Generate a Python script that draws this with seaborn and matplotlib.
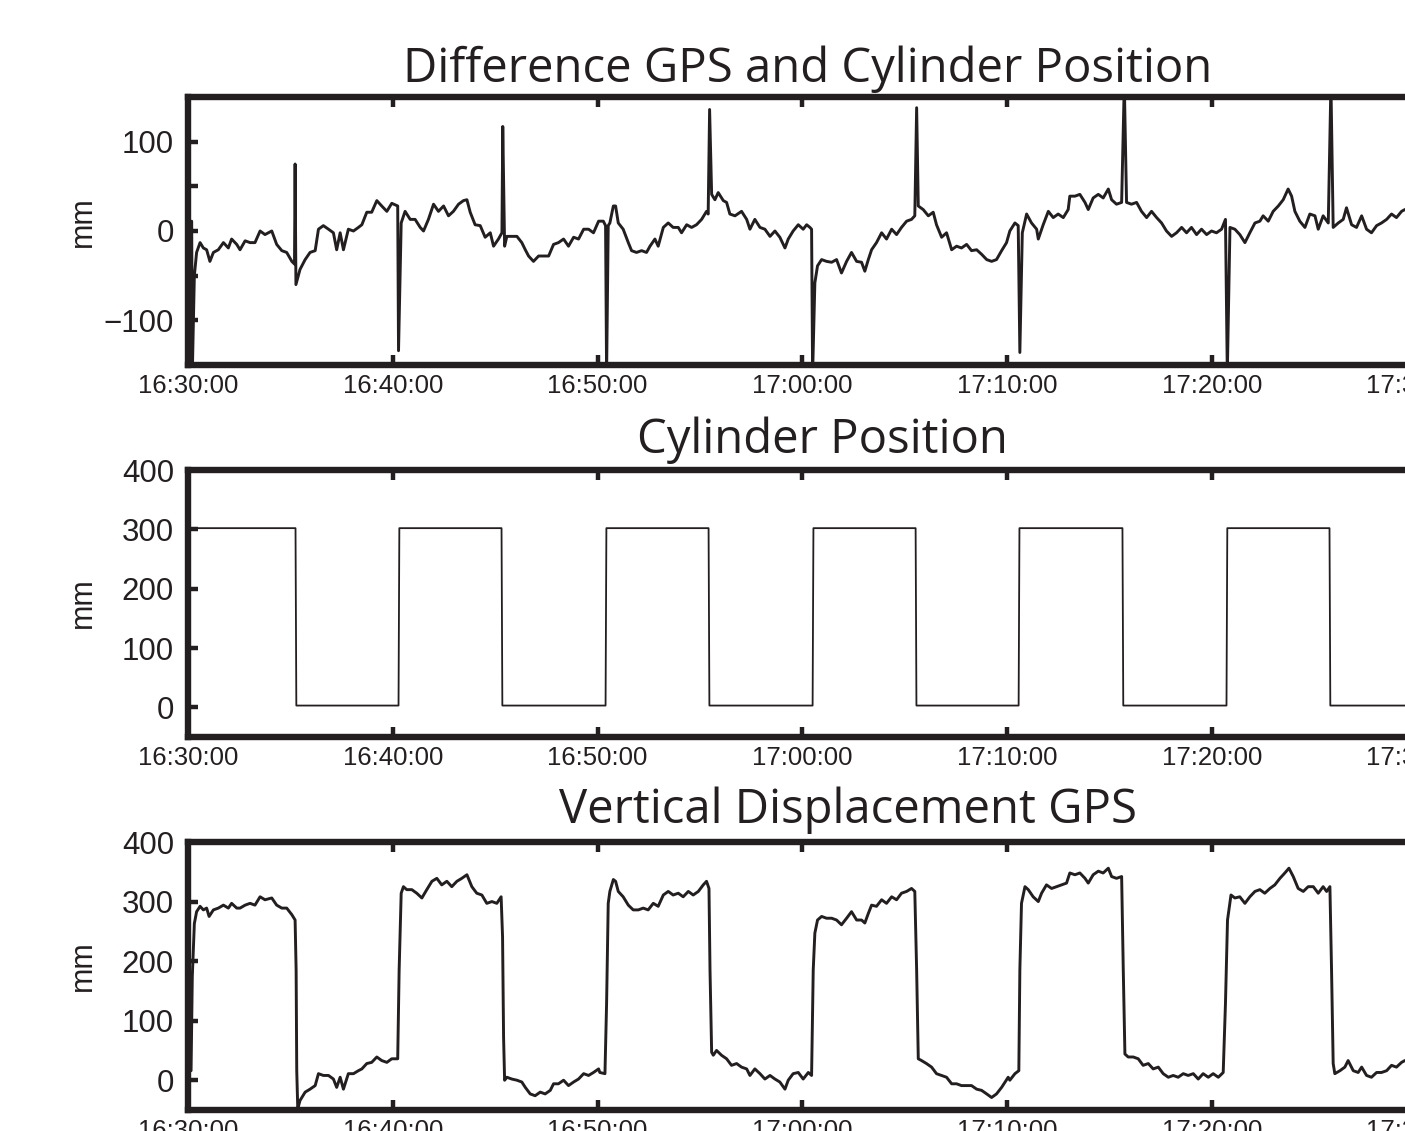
import numpy as np
import pandas as pd
import matplotlib
matplotlib.use("Agg")
import matplotlib.pyplot as plt
import seaborn as sns

# ---------------- data (minutes after 16:30:00, millimetres) ----------------
diff_min = [0.18, 0.21, 0.31, 0.42, 0.59, 0.75, 0.91, 1.07, 1.24, 1.48, 1.73, 1.97, 2.13, 2.38, 2.54,
            2.79, 3.03, 3.27, 3.52, 3.76, 4.09, 4.33, 4.58, 4.82, 5.07, 5.20, 5.23, 5.27, 5.47, 5.72,
            5.96, 6.21, 6.37, 6.61, 6.86, 7.10, 7.26, 7.43, 7.59, 7.83, 8.08, 8.32, 8.49, 8.73, 8.97,
            9.22, 9.46, 9.71, 9.95, 10.24, 10.28, 10.41, 10.60, 10.85, 11.09, 11.34, 11.50, 11.74, 11.99,
            12.23, 12.48, 12.72, 12.96, 13.21, 13.45, 13.62, 13.78, 14.02, 14.27, 14.51, 14.76, 14.92,
            15.16, 15.33, 15.37, 15.46, 15.57, 15.81, 16.06, 16.30, 16.47, 16.63, 16.87, 17.12, 17.36,
            17.61, 17.85, 18.09, 18.34, 18.58, 18.83, 19.07, 19.32, 19.56, 19.80, 20.05, 20.28, 20.39,
            20.44, 20.52, 20.60, 20.77, 20.88, 21.01, 21.25, 21.50, 21.66, 21.90, 22.15, 22.39, 22.56,
            22.80, 22.96, 23.21, 23.45, 23.69, 23.94, 24.10, 24.35, 24.59, 24.83, 25.08, 25.32, 25.40,
            25.47, 25.57, 25.73, 25.89, 26.14, 26.30, 26.46, 26.71, 27.03, 27.28, 27.44, 27.68, 27.93,
            28.17, 28.42, 28.66, 28.90, 29.15, 29.31, 29.55, 29.80, 30.04, 30.21, 30.37, 30.45, 30.50,
            30.61, 30.74, 30.94, 31.18, 31.43, 31.67, 31.91, 32.16, 32.40, 32.65, 32.89, 33.05, 33.22,
            33.38, 33.62, 33.87, 34.11, 34.36, 34.60, 34.84, 35.09, 35.33, 35.49, 35.58, 35.66, 35.90,
            36.15, 36.39, 36.55, 36.80, 37.04, 37.29, 37.53, 37.77, 38.02, 38.26, 38.51, 38.75, 39.00,
            39.24, 39.48, 39.73, 39.97, 40.13, 40.38, 40.54, 40.62, 40.74, 40.95, 41.19, 41.44, 41.52,
            41.76, 42.01, 42.25, 42.49, 42.74, 42.98, 43.06, 43.31, 43.55, 43.80, 43.96, 44.20, 44.45,
            44.69, 44.94, 45.10, 45.34, 45.59, 45.72, 45.83, 46.07, 46.32, 46.56, 46.81, 47.05, 47.30,
            47.54, 47.78, 48.03, 48.27, 48.52, 48.76, 49.00, 49.25, 49.49, 49.74, 49.98, 50.22, 50.47,
            50.66, 50.75, 50.88, 51.12, 51.36, 51.61, 51.85, 52.10, 52.34, 52.50, 52.75, 52.99, 53.24,
            53.48, 53.72, 53.89, 54.05, 54.29, 54.54, 54.78, 55.03, 55.19, 55.43, 55.68, 55.81, 55.92,
            56.17, 56.41, 56.57, 56.82, 57.06, 57.31, 57.55, 57.79, 58.04, 58.28, 58.53, 58.77, 59.01,
            59.26, 59.42, 59.70]
diff_mm = [11, -160, -50, -24, -13, -19, -21, -34, -24, -21, -13, -19, -9, -15, -21,
           -11, -13, -13, 0, -4, 0, -15, -22, -24, -34, -37, 75, -60, -43, -32,
           -24, -22, 2, 6, 2, -2, -21, -2, -21, 2, 0, 4, 7, 21, 21,
           34, 28, 22, 31, 28, -134, 9, 22, 13, 13, 4, 0, 13, 30,
           22, 28, 17, 22, 30, 34, 35, 21, 7, 6, -7, -2, -17,
           -9, -2, 117, -17, -6, -6, -6, -13, -21, -28, -34, -28, -28,
           -28, -15, -13, -9, -17, -7, -9, 2, 2, -2, 11, 11, 6,
           -160, 6, 9, 28, 28, 9, 2, -13, -22, -24, -22, -24, -17,
           -9, -17, 4, 9, 4, 4, -2, 7, 4, 7, 13, 22, 19,
           136, 41, 35, 43, 34, 32, 19, 17, 22, 13, 2, 13, 4,
           2, -6, 0, -7, -19, -9, 0, 7, 2, 7, 4, 2, -160,
           -58, -39, -32, -34, -35, -32, -47, -34, -24, -34, -35, -45, -32,
           -21, -13, -2, -9, 2, -4, 4, 11, 13, 17, 138, 28, 24,
           17, 21, 7, -7, -2, -21, -17, -19, -15, -22, -21, -26, -32,
           -34, -32, -22, -13, 0, 9, 6, -136, -2, 19, 9, 2, -9,
           7, 22, 15, 19, 15, 24, 39, 39, 41, 32, 24, 37, 41,
           37, 47, 35, 30, 32, 165, 32, 30, 32, 22, 15, 22, 15,
           9, 0, -6, -2, 4, -2, 4, -4, 2, -4, 0, -2, 2,
           13, -160, 4, 2, -4, -13, -2, 9, 11, 17, 11, 22, 28,
           35, 47, 39, 22, 11, 4, 19, 17, 2, 17, 9, 165, 4,
           9, 13, 26, 7, 4, 17, 2, -2, 6, 9, 13, 19, 15,
           22, 24, 22]

cyl_min = [0.18, 5.25, 5.29, 10.28, 10.32, 15.31, 15.35, 20.39, 20.43, 25.42, 25.46, 30.50, 30.54,
           35.53, 35.57, 40.56, 40.60, 45.63, 45.67, 50.71, 50.75, 55.74, 55.78, 59.70]
cyl_mm = [302, 302, 3, 3, 302, 302, 3, 3, 302, 302, 3, 3, 302,
          302, 3, 3, 302, 302, 3, 3, 302, 302, 3, 3]

gps_min = [0.15, 0.21, 0.31, 0.42, 0.59, 0.75, 0.91, 1.03, 1.24, 1.48, 1.73, 1.97, 2.13, 2.38, 2.54,
           2.79, 3.03, 3.27, 3.52, 3.76, 4.09, 4.33, 4.58, 4.82, 5.07, 5.23, 5.28, 5.31, 5.36, 5.47,
           5.72, 5.96, 6.21, 6.37, 6.61, 6.86, 7.10, 7.26, 7.43, 7.59, 7.83, 8.08, 8.32, 8.49, 8.73,
           8.97, 9.22, 9.46, 9.71, 9.95, 10.24, 10.31, 10.41, 10.52, 10.68, 10.93, 11.17, 11.42, 11.66,
           11.91, 12.15, 12.39, 12.64, 12.88, 13.13, 13.37, 13.62, 13.86, 14.10, 14.35, 14.59, 14.84,
           15.08, 15.29, 15.36, 15.41, 15.46, 15.57, 15.81, 16.06, 16.30, 16.47, 16.71, 16.95, 17.20,
           17.44, 17.69, 17.85, 18.09, 18.34, 18.58, 18.83, 19.07, 19.32, 19.56, 19.80, 20.05, 20.11,
           20.36, 20.44, 20.52, 20.60, 20.77, 20.88, 21.01, 21.25, 21.50, 21.74, 21.99, 22.23, 22.47,
           22.72, 22.96, 23.21, 23.45, 23.69, 23.94, 24.18, 24.43, 24.67, 24.92, 25.16, 25.32, 25.44,
           25.49, 25.57, 25.65, 25.81, 26.05, 26.30, 26.54, 26.79, 27.03, 27.28, 27.44, 27.68, 27.93,
           28.17, 28.42, 28.66, 28.90, 29.15, 29.31, 29.55, 29.80, 30.04, 30.29, 30.45, 30.53, 30.61,
           30.74, 30.94, 31.18, 31.43, 31.67, 31.91, 32.16, 32.40, 32.65, 32.89, 33.05, 33.22, 33.38,
           33.62, 33.87, 34.11, 34.36, 34.60, 34.84, 35.09, 35.33, 35.49, 35.58, 35.66, 35.82, 36.06,
           36.31, 36.55, 36.80, 37.04, 37.29, 37.53, 37.77, 38.02, 38.26, 38.51, 38.75, 39.00, 39.24,
           39.48, 39.73, 40.05, 40.13, 40.38, 40.57, 40.62, 40.70, 40.87, 41.03, 41.27, 41.52, 41.68,
           41.92, 42.17, 42.41, 42.66, 42.90, 43.06, 43.31, 43.55, 43.80, 43.96, 44.20, 44.45, 44.69,
           44.94, 45.10, 45.34, 45.59, 45.67, 45.75, 45.91, 46.16, 46.40, 46.64, 46.89, 47.13, 47.38,
           47.62, 47.87, 48.11, 48.35, 48.60, 48.84, 49.09, 49.33, 49.57, 49.82, 50.06, 50.31, 50.55,
           50.66, 50.76, 50.93, 51.12, 51.36, 51.61, 51.85, 52.10, 52.34, 52.58, 52.83, 53.07, 53.32,
           53.56, 53.76, 53.97, 54.21, 54.46, 54.70, 54.95, 55.19, 55.43, 55.60, 55.76, 55.84, 55.92,
           56.00, 56.25, 56.49, 56.65, 56.90, 57.14, 57.31, 57.55, 57.79, 58.04, 58.28, 58.53, 58.77,
           59.01, 59.26, 59.42, 59.70]
gps_mm = [16, 174, 263, 283, 292, 286, 289, 275, 286, 289, 294, 289, 297, 289, 289,
          294, 297, 294, 308, 303, 306, 294, 289, 289, 278, 269, 185, 16, -48, -34,
          -20, -15, -9, 11, 8, 8, 2, -12, 5, -15, 11, 11, 16, 19, 28,
          30, 39, 33, 30, 36, 36, 185, 314, 325, 320, 320, 314, 306, 320,
          334, 339, 328, 334, 325, 334, 339, 345, 325, 314, 311, 297, 300,
          297, 308, 241, 72, 0, 5, 2, 0, -3, -12, -23, -26, -20,
          -23, -17, -6, -6, 0, -9, -3, 2, 11, 8, 13, 19, 13,
          11, 129, 297, 317, 337, 334, 317, 308, 294, 286, 286, 289, 286,
          297, 292, 311, 317, 311, 314, 308, 317, 311, 317, 328, 334, 322,
          185, 47, 42, 50, 42, 36, 25, 28, 22, 19, 8, 19, 11,
          2, 8, 2, -3, -15, 0, 11, 13, 2, 13, 8, 185, 247,
          269, 275, 272, 272, 269, 261, 272, 283, 269, 269, 264, 280, 294,
          292, 303, 297, 308, 303, 314, 317, 322, 317, 185, 36, 33, 28,
          22, 11, 8, 5, -6, -6, -9, -9, -9, -15, -17, -23, -29,
          -23, -12, 5, 0, 11, 16, 185, 297, 325, 320, 308, 300, 314,
          328, 322, 325, 328, 331, 348, 345, 348, 339, 331, 345, 351, 348,
          356, 342, 339, 342, 185, 44, 39, 39, 36, 25, 28, 19, 22,
          11, 5, 8, 5, 11, 8, 11, 2, 11, 5, 11, 5, 13,
          129, 269, 311, 306, 308, 297, 308, 317, 320, 314, 322, 328, 339,
          348, 356, 342, 322, 317, 325, 325, 314, 325, 317, 325, 185, 28,
          11, 16, 22, 33, 16, 13, 22, 8, 5, 13, 13, 16, 25,
          22, 30, 33, 30]

xtick_min = [0, 10, 20, 30, 40, 50, 60]
xtick_labels = ["16:30:00", "16:40:00", "16:50:00", "17:00:00", "17:10:00", "17:20:00", "17:30:00"]
titles = ["Difference GPS and Cylinder Position", "Cylinder Position", "Vertical Displacement GPS"]
ylabel = "mm"

# ---------------- style ----------------
sns.set_style("ticks")
plt.rcParams["font.family"] = ["Liberation Sans", "DejaVu Sans"]
INK = "#231f20"

W, H = 1405, 1131
fig = plt.figure(figsize=(W / 100, H / 100), dpi=100)

def add_panel(top, bottom):
    return fig.add_axes([188 / W, 1 - bottom / H, 1240 / W, (bottom - top) / H])

ax1 = add_panel(97, 365)
ax2 = add_panel(470, 737)
ax3 = add_panel(842, 1110)

sns.lineplot(x=diff_min, y=diff_mm, ax=ax1, color=INK, lw=2.1, estimator=None, sort=False)
sns.lineplot(x=cyl_min, y=cyl_mm, ax=ax2, color=INK, lw=1.3, estimator=None, sort=False)
sns.lineplot(x=gps_min, y=gps_mm, ax=ax3, color=INK, lw=2.1, estimator=None, sort=False)

ax1.set_ylim(-150, 150)
ax1.set_yticks([-100, -50, 0, 50, 100])
ax1.set_yticklabels(["\u2212100", "", "0", "", "100"])
for ax in (ax2, ax3):
    ax.set_ylim(-50, 400)
    ax.set_yticks([0, 100, 200, 300, 400])
    ax.set_yticklabels(["0", "100", "200", "300", "400"])

pads = [11, 12, 14]
title_x = [0.4996, 0.5117, 0.5319]
label_y = [0.534, 0.502, 0.54]
for ax, title, pad, tx, ly in zip((ax1, ax2, ax3), titles, pads, title_x, label_y):
    ax.set_xlim(0, 60.55)
    ax.set_xticks(xtick_min)
    ax.set_xticklabels(xtick_labels)
    for s in ax.spines.values():
        s.set_linewidth(4.6)
        s.set_color(INK)
        s.set_visible(True)
    ax.tick_params(axis="x", which="both", direction="in", top=True, bottom=True,
                   length=7, width=3.2, color=INK, labelsize=18.5, pad=6.5, labelcolor=INK)
    ax.tick_params(axis="y", which="both", direction="in", left=True, right=False,
                   length=7, width=3.2, color=INK, labelsize=22.5, pad=10, labelcolor=INK)
    ax.set_xlabel("")
    ax.set_ylabel(ylabel, fontsize=22, color=INK)
    ax.yaxis.set_label_coords(-0.073, ly)
    ax.set_title(title, fontsize=34, family=["Open Sans", "DejaVu Sans"], color=INK,
                 pad=pad, x=tx)
    ax.grid(False)

fig.savefig("out.png", dpi=100)
